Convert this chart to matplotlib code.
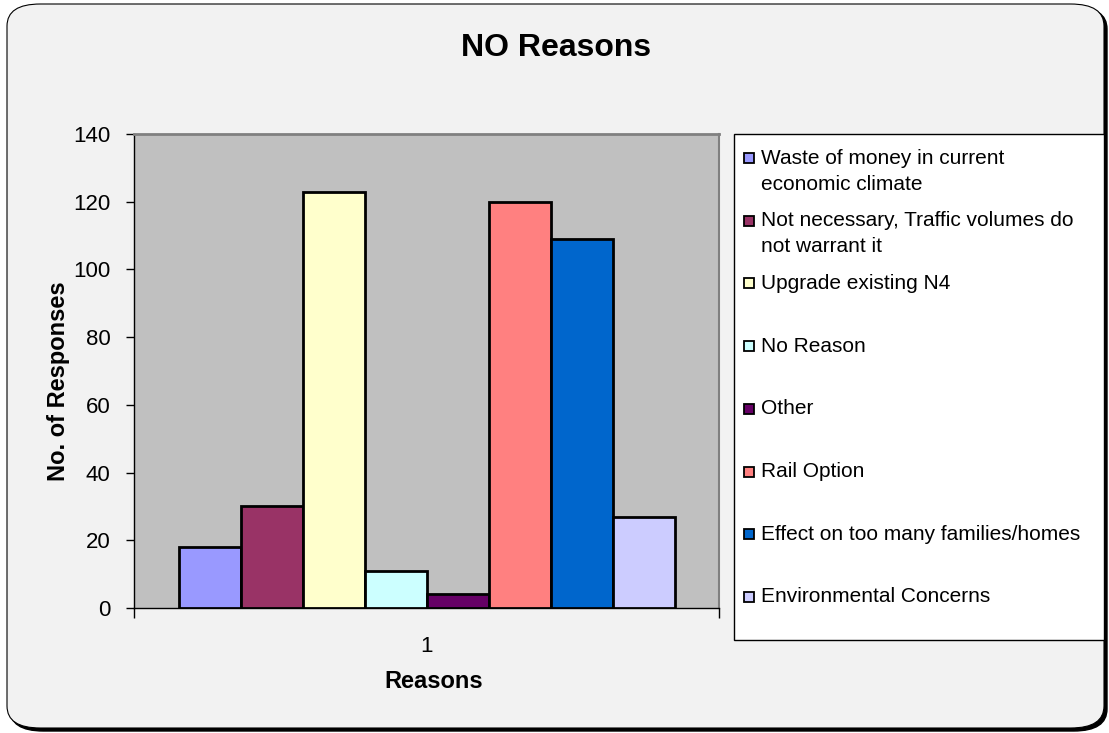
import matplotlib.pyplot as plt
from matplotlib.patches import FancyBboxPatch, Rectangle

W, H = 1109, 733

reasons = ['Waste of money in current\neconomic climate',
           'Not necessary, Traffic volumes do\nnot warrant it',
           'Upgrade existing N4',
           'No Reason',
           'Other',
           'Rail Option',
           'Effect on too many families/homes',
           'Environmental Concerns']
responses = [18, 30, 123, 11, 4, 120, 109, 27]
colors = ['#9999FF', '#993366', '#FFFFCC', '#CCFFFF',
          '#660066', '#FF8080', '#0066CC', '#CCCCFF']

plt.rcParams['font.family'] = ['Liberation Sans', 'DejaVu Sans']


def fx(px):
    return px / W


def fy(py):
    return 1 - py / H


fig = plt.figure(figsize=(W / 100, H / 100), dpi=100)
fig.patch.set_facecolor('white')

# rounded chart frame with a dark shadow on the lower right
shadow = FancyBboxPatch((fx(10), fy(731)), fx(1097), fy(7) - fy(731),
                        boxstyle='round,pad=0,rounding_size=0.03',
                        transform=fig.transFigure, facecolor='black',
                        edgecolor='black', linewidth=1, zorder=-3)
frame = FancyBboxPatch((fx(7), fy(728)), fx(1097), fy(4) - fy(728),
                       boxstyle='round,pad=0,rounding_size=0.03',
                       transform=fig.transFigure, facecolor='#F2F2F2',
                       edgecolor='black', linewidth=0.8, zorder=-2)
fig.patches.extend([shadow, frame])

ax = fig.add_axes([fx(134), fy(608), fx(719 - 134), fy(134) - fy(608)])
ax.set_zorder(1)
ax.set_facecolor('#C0C0C0')

x = list(range(len(responses)))
ax.bar(x, responses, width=1.0, color=colors, edgecolor='black',
       linewidth=2, zorder=3)

half = 585 / 62 / 2
centre = (len(responses) - 1) / 2
ax.set_xlim(centre - half, centre + half)
ax.set_ylim(0, 140)
ax.set_yticks(range(0, 141, 20))
ax.tick_params(axis='y', direction='out', length=6, width=1,
               labelsize=16, pad=11)

# category boundaries get tick marks, the single category gets the label
ax.set_xticks([centre - half, centre + half])
ax.set_xticklabels([])
ax.set_xticks([centre], minor=True)
ax.set_xticklabels(['1'], minor=True)
ax.tick_params(axis='x', which='major', direction='out', length=7, width=1)
ax.tick_params(axis='x', which='minor', length=0, labelsize=16, pad=20)

for side in ('top', 'right'):
    ax.spines[side].set_color('#808080')
ax.spines['top'].set_linewidth(2)
ax.spines['right'].set_linewidth(1.5)
for side in ('left', 'bottom'):
    ax.spines[side].set_color('black')
    ax.spines[side].set_linewidth(1)

fig.text(fx(556), fy(48), 'NO Reasons', ha='center', va='center',
         fontsize=23, fontweight='bold')
fig.text(fx(434), fy(682), 'Reasons', ha='center', va='center',
         fontsize=17, fontweight='bold')
fig.text(fx(58), fy(381), 'No. of Responses', ha='center', va='center',
         rotation=90, fontsize=17, fontweight='bold')

# legend box
fig.patches.append(Rectangle((fx(734), fy(640)), fx(1104 - 734),
                             fy(134) - fy(640), transform=fig.transFigure,
                             facecolor='white', edgecolor='black',
                             linewidth=1, zorder=1))
row0, step, line_h = 158, 62.7, 26
for i, (label, c) in enumerate(zip(reasons, colors)):
    yc = row0 + i * step
    fig.patches.append(Rectangle((fx(744), fy(yc + 5)), fx(10), fy(yc - 5) - fy(yc + 5),
                                 transform=fig.transFigure, facecolor=c,
                                 edgecolor='black', linewidth=1.3, zorder=2))
    for k, line in enumerate(label.split('\n')):
        fig.text(fx(761), fy(yc + k * line_h), line, ha='left',
                 va='center', fontsize=15, zorder=3)

fig.savefig('out.png', dpi=100, facecolor=fig.get_facecolor())
